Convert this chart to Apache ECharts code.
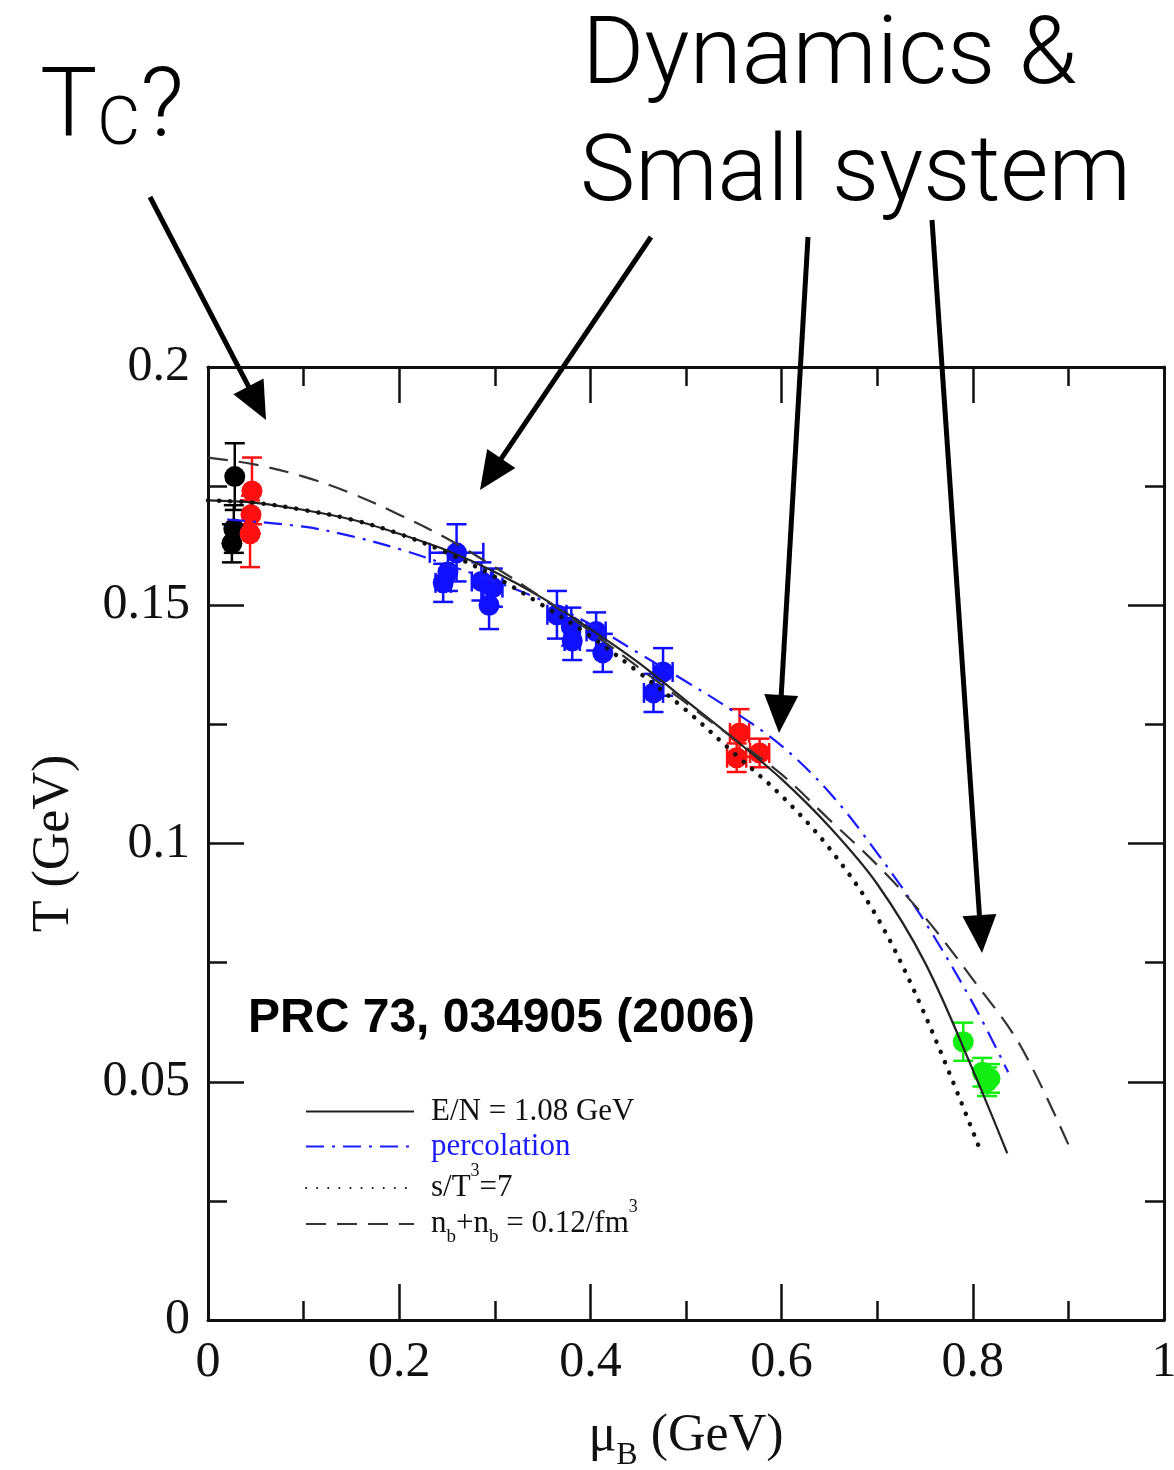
<!DOCTYPE html>
<html>
<head>
<meta charset="utf-8">
<script src="https://cdn.jsdelivr.net/npm/echarts@6/dist/echarts.min.js"></script>
<style>
  html, body { margin: 0; padding: 0; background: #fff; overflow: hidden; }
  #chart { width: 1174px; height: 1470px; }
</style>
</head>
<body>
<div id="chart"></div>
<script>
// Axis ticks (GeV)
const xTickValues = [0, 0.2, 0.4, 0.6, 0.8, 1];
const xTickLabels = ['0', '0.2', '0.4', '0.6', '0.8', '1'];
const yTickValues = [0, 0.05, 0.1, 0.15, 0.2];
const yTickLabels = ['0', '0.05', '0.1', '0.15', '0.2'];

// Freeze-out points: [muB, T, errT, errMuB]
const sisPoints = [
  [0.028, 0.177, 0.007, 0],
  [0.027, 0.166, 0.005, 0],
  [0.025, 0.163, 0.004, 0]
];
const rhicPoints = [
  [0.046, 0.174, 0.007, 0],
  [0.045, 0.169, 0.004, 0],
  [0.044, 0.165, 0.007, 0]
];
const spsPoints = [
  [0.246, 0.1547, 0.004, 0.008],
  [0.251, 0.157, 0.004, 0],
  [0.260, 0.161, 0.006, 0.028],
  [0.286, 0.155, 0.004, 0.010],
  [0.294, 0.150, 0.005, 0],
  [0.298, 0.1537, 0.004, 0.010],
  [0.365, 0.148, 0.005, 0.010],
  [0.380, 0.1455, 0.004, 0],
  [0.381, 0.1425, 0.004, 0.008],
  [0.406, 0.1445, 0.004, 0.010],
  [0.413, 0.140, 0.004, 0],
  [0.466, 0.1316, 0.004, 0.010],
  [0.476, 0.136, 0.005, 0.010]
];
const agsPoints = [
  [0.556, 0.1232, 0.005, 0.010],
  [0.553, 0.118, 0.003, 0.010],
  [0.577, 0.119, 0.003, 0.010]
];
const lowPoints = [
  [0.790, 0.0584, 0.004, 0],
  [0.810, 0.052, 0.003, 0],
  [0.818, 0.0507, 0.003, 0],
  [0.815, 0.0500, 0.003, 0]
];

// Freeze-out curves: [muB, T]
const energyPerParticle = [
  [0, 0.172], [0.05, 0.1715], [0.1, 0.170], [0.15, 0.168], [0.2, 0.165],
  [0.25, 0.1615], [0.3, 0.157], [0.35, 0.1515], [0.4, 0.145], [0.45, 0.138],
  [0.5, 0.130], [0.55, 0.122], [0.6, 0.1135], [0.65, 0.1035], [0.7, 0.0915],
  [0.75, 0.075], [0.8, 0.0525], [0.836, 0.035]
];
const percolation = [
  [0.02, 0.168], [0.1, 0.1665], [0.15, 0.1645], [0.2, 0.1618], [0.25, 0.1585],
  [0.3, 0.155], [0.35, 0.151], [0.4, 0.146], [0.45, 0.140], [0.5, 0.134],
  [0.55, 0.1277], [0.6, 0.1205], [0.65, 0.1107], [0.7, 0.098], [0.75, 0.0835],
  [0.8, 0.0665], [0.837, 0.052]
];
const entropyDensity = [
  [0, 0.172], [0.05, 0.1715], [0.1, 0.170], [0.15, 0.168], [0.2, 0.165],
  [0.25, 0.161], [0.3, 0.156], [0.35, 0.150], [0.4, 0.1435], [0.45, 0.136],
  [0.5, 0.128], [0.55, 0.119], [0.6, 0.110], [0.65, 0.099], [0.7, 0.0845],
  [0.75, 0.064], [0.809, 0.035]
];
const baryonDensity = [
  [0, 0.181], [0.05, 0.1795], [0.1, 0.177], [0.15, 0.1735], [0.2, 0.169],
  [0.25, 0.164], [0.3, 0.158], [0.35, 0.1515], [0.4, 0.1445], [0.45, 0.137],
  [0.5, 0.1295], [0.55, 0.122], [0.6, 0.1145], [0.65, 0.105], [0.7, 0.0955],
  [0.75, 0.0845], [0.8, 0.0715], [0.85, 0.0575], [0.904, 0.035]
];

const curveNames = ['E/N = 1.08 GeV', 'percolation', 's/T3=7', 'nb+nb = 0.12/fm3'];
const curveLabels = {
  'E/N = 1.08 GeV': '{n|E/N = 1.08 GeV}',
  'percolation': '{n|percolation}',
  's/T3=7': '{n|s/T}{sup|3}{n|=7}',
  'nb+nb = 0.12/fm3': '{n|n}{sub|b}{n|+n}{sub|b}{n| = 0.12/fm}{sup|3}'
};

const serifFont = '"Liberation Serif", "DejaVu Serif", serif';
const axisColor = '#111';

function errorBars(color) {
  return function (params, api) {
    const x = api.value(0), y = api.value(1), ey = api.value(2), ex = api.value(3);
    const top = api.coord([x, y + ey]);
    const bot = api.coord([x, y - ey]);
    const cap = 10;
    const style = { stroke: color, lineWidth: 2.5 };
    const kids = [
      { type: 'line', shape: { x1: top[0], y1: top[1], x2: bot[0], y2: bot[1] }, style },
      { type: 'line', shape: { x1: top[0] - cap, y1: top[1], x2: top[0] + cap, y2: top[1] }, style },
      { type: 'line', shape: { x1: bot[0] - cap, y1: bot[1], x2: bot[0] + cap, y2: bot[1] }, style }
    ];
    if (ex > 0) {
      const l = api.coord([x - ex, y]);
      const r = api.coord([x + ex, y]);
      kids.push(
        { type: 'line', shape: { x1: l[0], y1: l[1], x2: r[0], y2: r[1] }, style },
        { type: 'line', shape: { x1: l[0], y1: l[1] - cap, x2: l[0], y2: l[1] + cap }, style },
        { type: 'line', shape: { x1: r[0], y1: r[1] - cap, x2: r[0], y2: r[1] + cap }, style }
      );
    }
    return { type: 'group', children: kids };
  };
}

function pointSeries(data, color) {
  return [
    {
      type: 'custom', data, renderItem: errorBars(color),
      encode: { x: 0, y: 1 }, z: 2, silent: true
    },
    {
      type: 'scatter', data: data.map(d => [d[0], d[1]]),
      symbol: 'circle', symbolSize: 21, itemStyle: { color, opacity: 1 }, z: 3, silent: true
    }
  ];
}

function curve(name, data, color, type, width, cap) {
  return {
    name, type: 'line', data, smooth: 0.35,
    symbol: 'none', showSymbol: false, z: 5, silent: true,
    lineStyle: { color, type, width, cap: cap || 'butt' },
    itemStyle: { color }
  };
}

// One legend row per curve, so each row can sit at its own height
function legendRow(name, top, color) {
  return {
    orient: 'vertical', left: 300, top,
    itemWidth: 108, itemHeight: 28,
    selectedMode: false,
    itemStyle: { opacity: 0 },
    data: [color ? { name, textStyle: { color } } : { name }],
    formatter: n => curveLabels[n],
    textStyle: {
      color: axisColor, fontFamily: serifFont, fontSize: 31,
      padding: [0, 0, 0, 12],
      rich: {
        n: { fontFamily: serifFont, fontSize: 31, lineHeight: 28 },
        sup: { fontFamily: serifFont, fontSize: 18, verticalAlign: 'top', padding: [-12, 0, 0, 0] },
        sub: { fontFamily: serifFont, fontSize: 19, verticalAlign: 'bottom', padding: [0, 0, -9, 0] }
      }
    }
  };
}

// Arrow annotation geometry
function arrow(x1, y1, x2, y2) {
  const dx = x2 - x1, dy = y2 - y1;
  const len = Math.hypot(dx, dy);
  const ux = dx / len, uy = dy / len;
  const hl = 38, hw = 17;
  const bx = x2 - ux * hl, by = y2 - uy * hl;
  return [
    { type: 'line', shape: { x1, y1, x2: bx + ux * 4, y2: by + uy * 4 },
      style: { stroke: '#000', lineWidth: 5 }, z: 50 },
    { type: 'polygon', shape: { points: [[x2, y2], [bx - uy * hw, by + ux * hw], [bx + uy * hw, by - ux * hw]] },
      style: { fill: '#000' }, z: 50 }
  ];
}

const lightFont = 'Roboto, "Open Sans", sans-serif';

function mirrorAxis(base) {
  return Object.assign({}, base, {
    axisLabel: { show: false }, name: '', splitLine: { show: false }
  });
}

const axisCommon = {
  type: 'value',
  axisLine: { show: true, onZero: false, lineStyle: { color: axisColor, width: 3 } },
  axisTick: { show: true, inside: true, length: 36, lineStyle: { color: axisColor, width: 2.5 } },
  minorTick: { show: true, splitNumber: 2, length: 19, lineStyle: { color: axisColor, width: 2.5 } },
  splitLine: { show: false },
  minorSplitLine: { show: false }
};

const xBase = Object.assign({}, axisCommon, { min: 0, max: 1, interval: 0.2 });
const yBase = Object.assign({}, axisCommon, { min: 0, max: 0.2, interval: 0.05 });

const chart = echarts.init(document.getElementById('chart'), null, { renderer: 'canvas' });

chart.setOption({
  backgroundColor: '#fff',
  animation: false,
  grid: { left: 208, right: 10, top: 367, bottom: 150, containLabel: false, outerBoundsMode: 'none' },
  xAxis: [
    Object.assign({}, xBase, {
      position: 'bottom',
      axisLabel: {
        margin: 18, color: axisColor, fontFamily: serifFont, fontSize: 50,
        formatter: v => {
          const i = xTickValues.findIndex(t => Math.abs(t - v) < 1e-9);
          return i >= 0 ? xTickLabels[i] : '';
        }
      },
      name: 'μ{sub|B} (GeV)',
      nameLocation: 'middle', nameGap: 90,
      nameTextStyle: {
        color: axisColor, fontFamily: serifFont, fontSize: 52,
        rich: { sub: { fontFamily: serifFont, fontSize: 32, verticalAlign: 'bottom', padding: [0, 0, -10, 0], color: axisColor } }
      }
    }),
    mirrorAxis(Object.assign({}, xBase, { position: 'top' }))
  ],
  yAxis: [
    Object.assign({}, yBase, {
      position: 'left',
      axisLabel: {
        margin: 18, color: axisColor, fontFamily: serifFont, fontSize: 50,
        formatter: v => {
          const i = yTickValues.findIndex(t => Math.abs(t - v) < 1e-9);
          return i >= 0 ? yTickLabels[i] : '';
        }
      },
      name: 'T (GeV)',
      nameLocation: 'middle', nameGap: 128,
      nameTextStyle: { color: axisColor, fontFamily: serifFont, fontSize: 52 }
    }),
    mirrorAxis(Object.assign({}, yBase, { position: 'right' }))
  ],
  legend: [
    legendRow(curveNames[0], 1091),
    legendRow(curveNames[1], 1126, '#1a1aff'),
    legendRow(curveNames[2], 1157),
    legendRow(curveNames[3], 1193)
  ],
  series: [
    ...pointSeries(sisPoints, '#000000'),
    ...pointSeries(rhicPoints, '#ff1010'),
    ...pointSeries(spsPoints, '#1010ff'),
    ...pointSeries(agsPoints, '#ff1010'),
    ...pointSeries(lowPoints, '#12ee12'),
    curve(curveNames[0], energyPerParticle, '#222222', 'solid', 2.2),
    curve(curveNames[1], percolation, '#1a1aff', [18, 8, 3, 8], 2.2),
    curve(curveNames[2], entropyDensity, '#111111', [0.1, 11], 4.5, 'round'),
    curve(curveNames[3], baryonDensity, '#333333', [20, 11], 2.2)
  ],
  graphic: [
    {
      type: 'text', left: 248, top: 995, z: 40,
      style: { text: 'PRC 73, 034905 (2006)', font: 'bold 48px "Liberation Sans", Arial, sans-serif', fill: '#000' }
    },
    {
      type: 'text', x: 40, y: 160, z: 40,
      style: {
        text: '{a|T}{b|C}{a|?}', textVerticalAlign: 'bottom',
        rich: {
          a: { font: '300 96px ' + lightFont, fill: '#000', lineHeight: 96, verticalAlign: 'bottom' },
          b: { font: '300 66px ' + lightFont, fill: '#000', lineHeight: 66, verticalAlign: 'bottom' }
        }
      }
    },
    {
      type: 'text', x: 582, y: 59, z: 40,
      style: { text: 'Dynamics &', font: '300 95px ' + lightFont, fill: '#000', textVerticalAlign: 'middle' }
    },
    {
      type: 'text', x: 580, y: 177, z: 40,
      style: { text: 'Small system', font: '300 93px ' + lightFont, fill: '#000', textVerticalAlign: 'middle' }
    },
    ...arrow(150, 197, 266, 420),
    ...arrow(651, 237, 480, 490),
    ...arrow(808, 237, 779, 733),
    ...arrow(932, 220, 982, 953)
  ]
});
</script>
</body>
</html>
